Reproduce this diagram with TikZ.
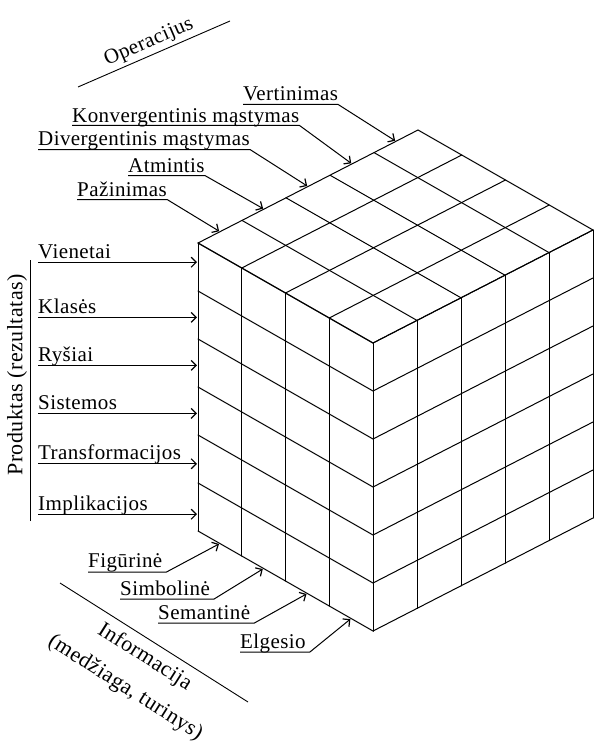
\documentclass[tikz,border=0pt]{standalone}
\usepackage{fontspec}
\setmainfont{Liberation Serif}[LetterSpace=2]
\usetikzlibrary{arrows.meta}

\tikzset{
  lbl/.style={inner sep=0pt, anchor=base west, font=\fontsize{21}{24}\selectfont},
  lead/.style={line width=1pt, shorten >=1pt,
    -{Straight Barb[length=5pt,width=10pt,line width=1.2pt]}},
  cubeline/.style={line width=1pt, line cap=round},
  axisline/.style={line width=0.9pt}
}

\begin{document}
\begin{tikzpicture}[x=1pt, y=-1pt]
  \useasboundingbox (0,0) rectangle (595,749);
  \coordinate (O) at (198,243);
  % the cube: 4 contents x 5 operations x 6 products
  \begin{scope}[shift={(O)}, x={(43.75pt,-25pt)}, y={(44pt,22.6pt)},
      z={(0pt,-48pt)}, cubeline]
    \foreach \i in {0,...,4} {
      \draw (\i,0,0) -- (\i,0,6);
      \draw (\i,0,0) -- (\i,5,0);
    }
    \foreach \j in {0,...,5} {
      \draw (4,\j,0) -- (4,\j,6);
      \draw (0,\j,0) -- (4,\j,0);
    }
    \foreach \k in {0,...,6}
      \draw (0,0,\k) -- (4,0,\k) -- (4,5,\k);
    % where the arrows point
    \coordinate (tPaz) at (0,0.5,0);
    \coordinate (tAtm) at (0,1.5,0);
    \coordinate (tDiv) at (0,2.5,0);
    \coordinate (tKonv) at (0,3.5,0);
    \coordinate (tVert) at (0,4.5,0);
    \coordinate (tVien) at (0,0,0.4);
    \coordinate (tKlas) at (0,0,1.55);
    \coordinate (tRys) at (0,0,2.55);
    \coordinate (tSist) at (0,0,3.55);
    \coordinate (tTrans) at (0,0,4.6);
    \coordinate (tImpl) at (0,0,5.65);
    \coordinate (tFig) at (0.5,0,6);
    \coordinate (tSimb) at (1.5,0,6);
    \coordinate (tSem) at (2.5,0,6);
    \coordinate (tElg) at (3.5,0,6);
  \end{scope}

  % operacijos
  \coordinate (opA) at (78,87);
  \coordinate (opB) at (230,21);
  \draw[axisline] (opA) -- node[sloped, above=3pt, inner sep=0pt,
    font=\fontsize{21}{24}\selectfont] (opLab) {Operacijus} (opB);

  \node[lbl] (vert) at (243,101) {Vertinimas};
  \node[lbl] (konv) at (72,122) {Konvergentinis mąstymas};
  \node[lbl] (diverg) at (38,146) {Divergentinis mąstymas};
  \node[lbl] (atmin) at (128,172) {Atmintis};
  \node[lbl] (pazin) at (77,196) {Pažinimas};
  \draw[lead] ([yshift=-3.5pt]vert.base west) -- ([yshift=-3.5pt]vert.base east) -- (tVert);
  \draw[lead] ([yshift=-3.5pt]konv.base west) -- ([yshift=-3.5pt]konv.base east) -- (tKonv);
  \draw[lead] ([yshift=-3.5pt]diverg.base west) -- ([yshift=-3.5pt]diverg.base east) -- (tDiv);
  \draw[lead] ([yshift=-3.5pt]atmin.base west) -- ([yshift=-3.5pt]atmin.base east) -- (tAtm);
  \draw[lead] ([yshift=-3.5pt]pazin.base west) -- ([yshift=-3.5pt]pazin.base east) -- (tPaz);

  % produktai
  \coordinate (prA) at (30.5,260);
  \coordinate (prB) at (30.5,521);
  \draw[axisline] (prB) -- node[pos=0.56, sloped, above=3pt, inner sep=0pt,
    font=\fontsize{22}{24}\selectfont] (prLab) {Produktas (rezultatas)} (prA);

  \node[lbl] (vien) at (38,258) {Vienetai};
  \node[lbl] (klas) at (38,313) {Klasės};
  \node[lbl] (rys) at (38,361) {Ryšiai};
  \node[lbl] (sist) at (38,409) {Sistemos};
  \node[lbl] (trans) at (38,459) {Transformacijos};
  \node[lbl] (impl) at (38,510) {Implikacijos};
  \draw[lead] (vien.base west |- tVien) -- (tVien);
  \draw[lead] (klas.base west |- tKlas) -- (tKlas);
  \draw[lead] (rys.base west |- tRys) -- (tRys);
  \draw[lead] (sist.base west |- tSist) -- (tSist);
  \draw[lead] (trans.base west |- tTrans) -- (tTrans);
  \draw[lead] (impl.base west |- tImpl) -- (tImpl);

  % informacija
  \coordinate (infA) at (60,583);
  \coordinate (infB) at (248,702);
  \draw[axisline] (infA) -- node[sloped, below=7pt, inner sep=0pt, align=center,
    font=\fontsize{22}{36}\selectfont] (infLab) {Informacija\\(medžiaga, turinys)} (infB);

  \node[lbl] (figur) at (88,567) {Figūrinė};
  \node[lbl] (simb) at (120,595) {Simbolinė};
  \node[lbl] (seman) at (158,619) {Semantinė};
  \node[lbl] (elges) at (240,648) {Elgesio};
  \draw[lead] ([yshift=-5pt]figur.base west) -- ([xshift=4pt,yshift=-5pt]figur.base east) -- (tFig);
  \draw[lead] ([yshift=-4pt]simb.base west) -- ([xshift=4pt,yshift=-4pt]simb.base east) -- (tSimb);
  \draw[lead] ([yshift=-4pt]seman.base west) -- ([xshift=4pt,yshift=-4pt]seman.base east) -- (tSem);
  \draw[lead] ([yshift=-4pt]elges.base west) -- ([xshift=4pt,yshift=-4pt]elges.base east) -- (tElg);
\end{tikzpicture}
\end{document}
